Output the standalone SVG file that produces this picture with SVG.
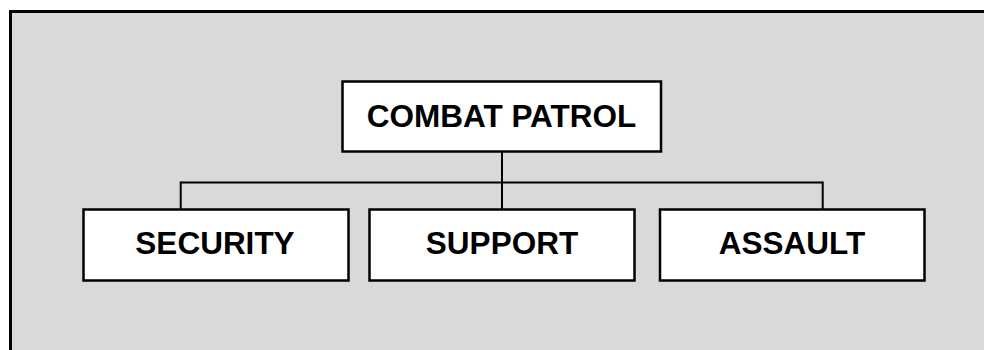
<svg xmlns="http://www.w3.org/2000/svg" width="984" height="350" viewBox="0 0 984 350">
<style>
.node rect{fill:#ffffff;stroke:#000000;stroke-width:2.5}
.node text{font-family:"Liberation Sans",Arial,sans-serif;font-weight:bold;font-size:31.5px;fill:#000000;text-anchor:middle}
.conn{fill:none;stroke:#000000;stroke-width:2}
</style>
<rect id="frame" x="10.5" y="11.5" width="990" height="360" fill="#d9d9d9" stroke="#000000" stroke-width="3"/>
<g id="connectors">
<path class="conn" d="M502 152 V210"/>
<path class="conn" d="M180.7 182.5 H822.7"/>
<path class="conn" d="M180.7 181.5 V210"/>
<path class="conn" d="M822.7 181.5 V210"/>
</g>
<g id="combat-patrol" class="node">
<rect x="342.5" y="81.5" width="318.5" height="70"/>
<text x="501.5" y="127">COMBAT PATROL</text>
</g>
<g id="security" class="node">
<rect x="83.5" y="209.5" width="265" height="71"/>
<text x="215" y="254">SECURITY</text>
</g>
<g id="support" class="node">
<rect x="369.5" y="209.5" width="265" height="71"/>
<text x="502" y="254">SUPPORT</text>
</g>
<g id="assault" class="node">
<rect x="660" y="209.5" width="264.5" height="71"/>
<text x="792" y="254">ASSAULT</text>
</g>
</svg>
